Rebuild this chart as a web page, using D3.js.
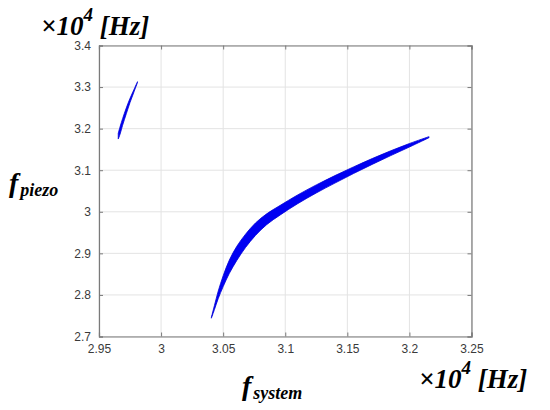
<!DOCTYPE html>
<html>
<head>
<meta charset="utf-8">
<script src="https://cdn.jsdelivr.net/npm/d3@7"></script>
<style>
  body { margin: 0; background: #fff; }
  svg { display: block; }
</style>
</head>
<body>
<div id="chart"></div>
<script>
// tick labels
const xTicks = [2.95, 3, 3.05, 3.1, 3.15, 3.2, 3.25];
const yTicks = [2.7, 2.8, 2.9, 3, 3.1, 3.2, 3.3, 3.4];

// big band: centre line and vertical half width (x10^4 Hz)
const bigX = [3.0405, 3.043, 3.046, 3.050, 3.055, 3.061, 3.068, 3.076, 3.085, 3.096, 3.110, 3.125, 3.140, 3.155, 3.170, 3.185, 3.200, 3.2158];
const bigY = [2.745, 2.770, 2.800, 2.833, 2.868, 2.900, 2.930, 2.958, 2.982, 3.004, 3.030, 3.055, 3.078, 3.100, 3.121, 3.141, 3.160, 3.1795];
const bigH = [0.001, 0.005, 0.009, 0.013, 0.016, 0.017, 0.016, 0.015, 0.013, 0.0115, 0.0105, 0.0097, 0.009, 0.008, 0.007, 0.0058, 0.0042, 0.0013];

// small band
const smallX = [2.9655, 2.967, 2.969, 2.972, 2.975, 2.978, 2.981];
const smallY = [3.182, 3.196, 3.216, 3.243, 3.268, 3.290, 3.312];
const smallH = [0.007, 0.009, 0.008, 0.007, 0.005, 0.003, 0.001];

const W = 550, H = 410;
const margin = {top: 45.5, right: 78.5, bottom: 73.5, left: 99};
const width = W - margin.left - margin.right,
      height = H - margin.top - margin.bottom;

const svg = d3.select("#chart").append("svg")
    .attr("width", W)
    .attr("height", H);

const g = svg.append("g")
    .attr("transform", "translate(" + margin.left + "," + margin.top + ")");

let x = d3.scaleLinear().domain([2.95, 3.25]).range([0, width]);
let y = d3.scaleLinear().domain([2.7, 3.4]).range([height, 0]);

// grid
g.append("g").selectAll("line")
  .data(xTicks)
  .join("line")
    .attr("x1", d => x(d)).attr("x2", d => x(d))
    .attr("y1", 0).attr("y2", height)
    .attr("stroke", "#e3e3e3").attr("stroke-width", 1);
g.append("g").selectAll("line")
  .data(yTicks)
  .join("line")
    .attr("y1", d => y(d)).attr("y2", d => y(d))
    .attr("x1", 0).attr("x2", width)
    .attr("stroke", "#e3e3e3").attr("stroke-width", 1);

// bands
function band(xs, ys, hs) {
  const upper = xs.map((v, i) => [x(v), y(ys[i] + hs[i])]);
  const lower = xs.map((v, i) => [x(v), y(ys[i] - hs[i])]).reverse();
  const line = d3.line().curve(d3.curveCatmullRom);
  return line(upper) + "L" + line(lower).slice(1) + "Z";
}
g.append("path")
    .attr("d", band(bigX, bigY, bigH))
    .attr("fill", "#0000f2")
    .attr("stroke", "#0000d8")
    .attr("stroke-width", 0.8);
g.append("path")
    .attr("d", band(smallX, smallY, smallH))
    .attr("fill", "#0000f2")
    .attr("stroke", "#0000d8")
    .attr("stroke-width", 0.8);

// axes (box with inner ticks)
const axisColor = "#7a7a7a";
let xAxis = g.append("g")
    .attr("transform", `translate(0,${height})`)
    .call(d3.axisBottom(x).tickValues(xTicks).tickSize(-4).tickPadding(8).tickFormat(d3.format("")));
let yAxis = g.append("g")
    .call(d3.axisLeft(y).tickValues(yTicks).tickSize(-4).tickPadding(8).tickFormat(d3.format("")));
let xTop = g.append("g")
    .call(d3.axisTop(x).tickValues(xTicks).tickSize(-4).tickFormat(""));
let yRight = g.append("g")
    .attr("transform", `translate(${width},0)`)
    .call(d3.axisRight(y).tickValues(yTicks).tickSize(-4).tickFormat(""));

[xAxis, yAxis, xTop, yRight].forEach(a => {
  a.select(".domain").attr("stroke", axisColor).attr("stroke-width", 1.2);
  a.selectAll(".tick line").attr("stroke", axisColor);
  a.selectAll(".tick text")
    .attr("fill", "#3a3a3a")
    .attr("font-family", "Liberation Sans, Arial, sans-serif")
    .attr("font-size", "12px");
});

// labels
const serif = "Liberation Serif, Times New Roman, serif";

function unitLabel(px, py) {
  const t = svg.append("text")
      .attr("x", px).attr("y", py)
      .attr("font-family", serif)
      .attr("font-weight", "bold")
      .attr("font-style", "italic")
      .attr("font-size", "27px")
      .attr("fill", "#000");
  t.append("tspan").text("\u00d710");
  t.append("tspan").attr("font-size", "19px").attr("dy", -14).text("4");
  t.append("tspan").attr("dy", 14).text("\u00a0[Hz]");
}
unitLabel(41, 35);
unitLabel(419, 388);

function symLabel(px, py, sub) {
  const t = svg.append("text")
      .attr("x", px).attr("y", py)
      .attr("font-family", serif)
      .attr("font-weight", "bold")
      .attr("font-style", "italic")
      .attr("font-size", "28px")
      .attr("fill", "#000");
  t.append("tspan").text("f");
  t.append("tspan").attr("font-size", "18px").attr("dy", 4).attr("dx", 2).text(sub);
}
symLabel(9, 192, "piezo");
symLabel(242, 395, "system");
</script>
</body>
</html>
